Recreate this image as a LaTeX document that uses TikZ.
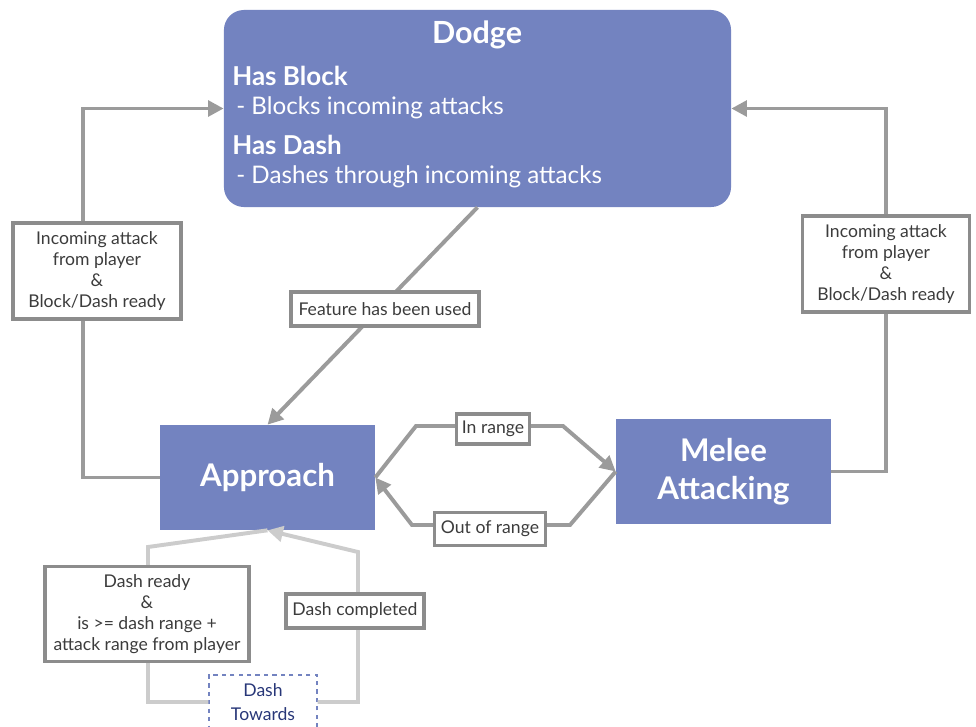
\documentclass[tikz,border=0pt]{standalone}
\usepackage{fontspec}
\setmainfont{Lato}
\usepackage{xcolor}
\usetikzlibrary{arrows.meta}
\definecolor{statefill}{RGB}{115,131,192}
\definecolor{linegray}{RGB}{155,155,155}
\definecolor{boxgray}{RGB}{140,140,140}
\definecolor{lightgray}{RGB}{204,204,204}
\definecolor{textgray}{RGB}{60,60,60}
\definecolor{navy}{RGB}{40,55,120}

\begin{document}
\begin{tikzpicture}[x=0.025cm,y=-0.025cm,
	state/.style={fill=statefill,text=white,font=\fontsize{22.2}{27}\selectfont\bfseries,align=center},
	cond/.style={draw=boxgray,line width=2.6pt,fill=white,text=textgray,align=center,font=\fontsize{12.5}{14.8}\selectfont,inner sep=2pt},
	conn/.style={draw=linegray,line width=2.8pt,line join=miter},
	lightconn/.style={draw=lightgray,line width=2.8pt},
	tip/.style={-{Triangle[length=11pt,width=11pt]}}]
	\clip (0,0) rectangle (976,726);
	% states
	\node[state,rounded corners=0.5cm,minimum width=12.675cm,minimum height=4.925cm] (dodge) at (477.5,108.5) {};
	\node[text=white,font=\fontsize{21.7}{25}\selectfont\bfseries] (dodgetitle) at (477,35) {Dodge};
	\node[text=white,anchor=west,font=\fontsize{18.5}{20}\selectfont\bfseries,inner sep=0pt] (hasblock) at (232,76) {Has Block};
	\node[text=white,anchor=west,font=\fontsize{17.2}{20}\selectfont,inner sep=0pt] (blocks) at (236,108) {- Blocks incoming attacks};
	\node[text=white,anchor=west,font=\fontsize{18.5}{20}\selectfont\bfseries,inner sep=0pt] (hasdash) at (232,145) {Has Dash};
	\node[text=white,anchor=west,font=\fontsize{17.2}{20}\selectfont,inner sep=0pt] (dashes) at (236,177) {- Dashes through incoming attacks};
	\node[state,minimum width=5.375cm,minimum height=2.625cm] (approach) at (267.5,477.5) {Approach};
	\node[state,minimum width=5.375cm,minimum height=2.625cm] (melee) at (723.5,471.5) {Melee\\Attacking};
	\node[draw=statefill,dashed,line width=0.8pt,text=navy,align=center,font=\fontsize{12.5}{16.5}\selectfont,minimum width=2.7cm,minimum height=1.35cm] (dashtowards) at (263,702) {Dash\\Towards};

	% connectors
	\draw[conn,tip] (approach.west) -- (83,477.5) |- (dodge.west);
	\draw[conn,tip] (melee.east) -- (886,471.5) |- (dodge.east);
	\draw[conn,tip] (dodge.south) -- (approach.north);
	\draw[conn,tip] (approach.east) -- (416,426) -- (563,426) -- (melee.west);
	\draw[conn,tip] (melee.west) -- (570,525) -- (412,525) -- (approach.east);
	\draw[lightconn] (approach.south) -- (148,547) -- (148,702) -- (dashtowards.west);
	\draw[lightconn,tip] (dashtowards.east) -- (358,702) -- (358,552) -- (approach.south);

	% conditions
	\node[cond,minimum width=4.2cm,minimum height=2.4cm] (incomingl) at (97,271) {Incoming attack\\from player\\\&\\Block/Dash ready};
	\node[cond,minimum width=4.175cm,minimum height=2.4cm] (incomingr) at (886,264) {Incoming attack\\from player\\\&\\Block/Dash ready};
	\node[cond,minimum width=4.7cm,minimum height=0.85cm] (used) at (385,309) {Feature has been used};
	\node[cond,minimum width=1.825cm,minimum height=0.75cm] (inrange) at (493,429) {In range};
	\node[cond,minimum width=2.775cm,minimum height=0.825cm] (outrange) at (490,529) {Out of range};
	\node[cond,minimum width=5.1cm,minimum height=2.375cm] (dashready) at (147,614) {Dash ready\\\&\\is >= dash range +\\attack range from player};
	\node[cond,minimum width=3.45cm,minimum height=0.85cm] (dashdone) at (355,611) {Dash completed};
\end{tikzpicture}
\end{document}
